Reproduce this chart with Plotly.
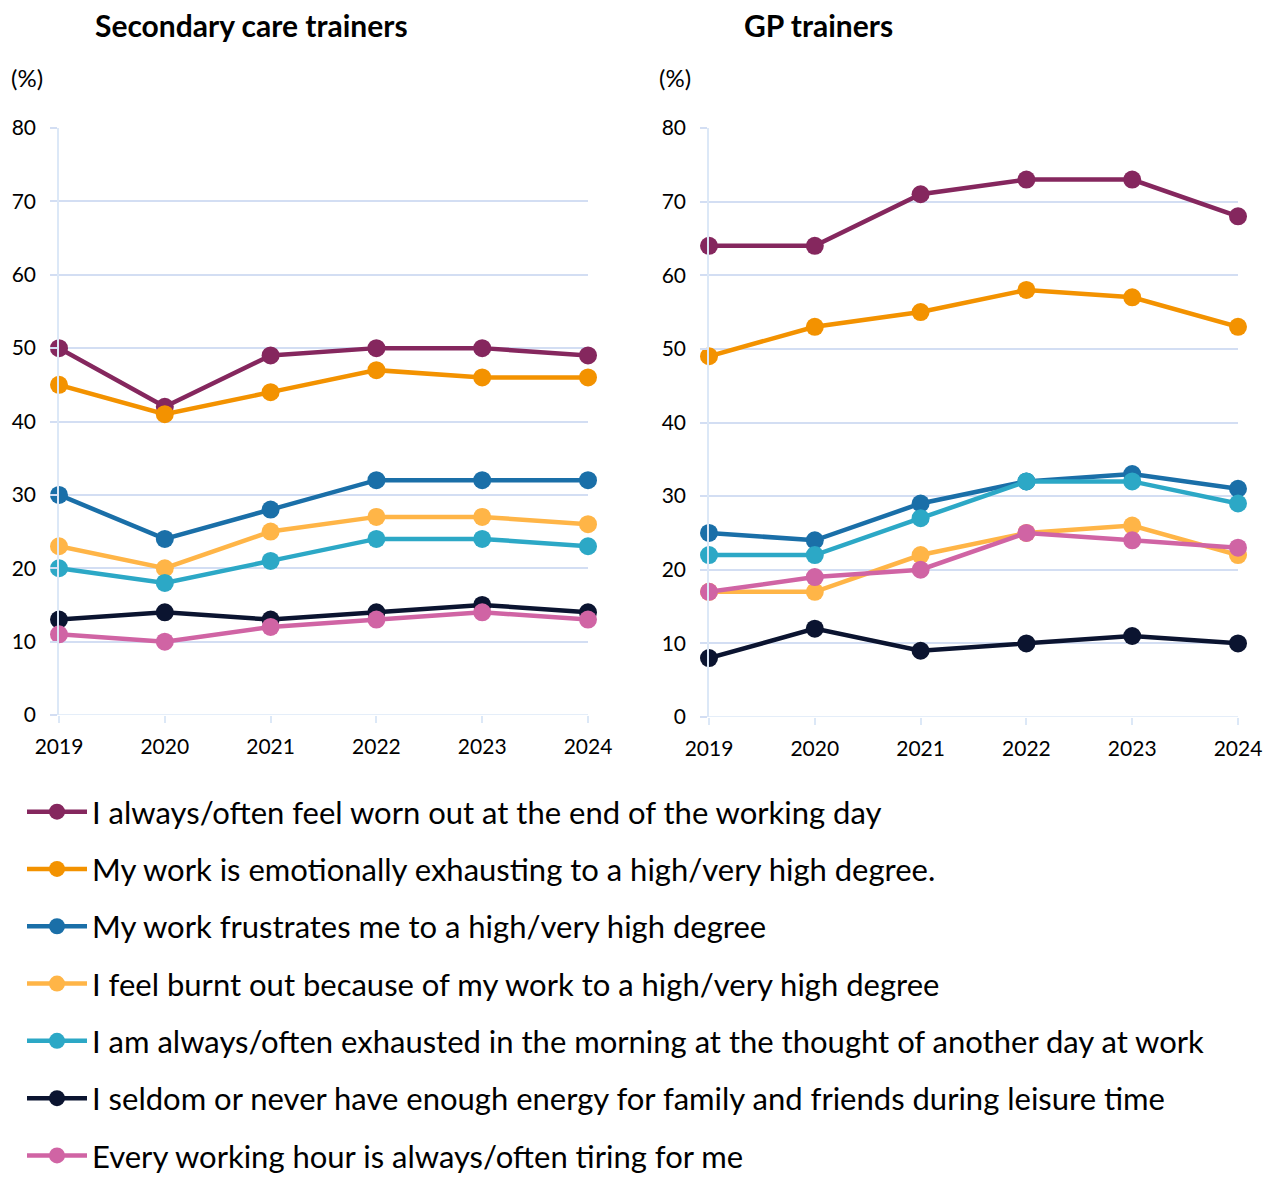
import plotly.graph_objects as go

years = [2019, 2020, 2021, 2022, 2023, 2024]

series_names = [
    "I always/often feel worn out at the end of the working day",
    "My work is emotionally exhausting to a high/very high degree.",
    "My work frustrates me to a high/very high degree",
    "I feel burnt out because of my work to a high/very high degree",
    "I am always/often exhausted in the morning at the thought of another day at work",
    "I seldom or never have enough energy for family and friends during leisure time",
    "Every working hour is always/often tiring for me",
]

colors = ["#85275E", "#F39200", "#1A6FA8", "#FFB547", "#2CA8C6", "#0B1430", "#D064A4"]

# Secondary care trainers (%)
secondary_worn_out = [50, 42, 49, 50, 50, 49]
secondary_emotional = [45, 41, 44, 47, 46, 46]
secondary_frustrates = [30, 24, 28, 32, 32, 32]
secondary_burnt_out = [23, 20, 25, 27, 27, 26]
secondary_morning = [20, 18, 21, 24, 24, 23]
secondary_energy = [13, 14, 13, 14, 15, 14]
secondary_tiring = [11, 10, 12, 13, 14, 13]

# GP trainers (%)
gp_worn_out = [64, 64, 71, 73, 73, 68]
gp_emotional = [49, 53, 55, 58, 57, 53]
gp_frustrates = [25, 24, 29, 32, 33, 31]
gp_burnt_out = [17, 17, 22, 25, 26, 22]
gp_morning = [22, 22, 27, 32, 32, 29]
gp_energy = [8, 12, 9, 10, 11, 10]
gp_tiring = [17, 19, 20, 25, 24, 23]

secondary = [secondary_worn_out, secondary_emotional, secondary_frustrates,
             secondary_burnt_out, secondary_morning, secondary_energy, secondary_tiring]
gp = [gp_worn_out, gp_emotional, gp_frustrates,
      gp_burnt_out, gp_morning, gp_energy, gp_tiring]

W, H = 1265, 1183
FONT = "Lato"
TEXT = "#000000"
GRID = "#D3DEF3"
AXIS = "#DCE8F7"


def px_x(p):
    return p / W


def px_y(p):
    return 1 - p / H


fig = go.Figure()

for i, name in enumerate(series_names):
    fig.add_trace(go.Scatter(
        x=years, y=secondary[i], name=name, mode="lines+markers",
        line=dict(color=colors[i], width=4.5),
        marker=dict(color=colors[i], size=18),
        xaxis="x", yaxis="y", cliponaxis=False,
        legendgroup=f"g{i}", showlegend=True,
    ))
for i, name in enumerate(series_names):
    fig.add_trace(go.Scatter(
        x=years, y=gp[i], name=name, mode="lines+markers",
        line=dict(color=colors[i], width=4.5),
        marker=dict(color=colors[i], size=18),
        xaxis="x2", yaxis="y2", cliponaxis=False,
        legendgroup=f"g{i}", showlegend=False,
    ))

xaxis_common = dict(
    range=[2019, 2024], tickvals=years, ticktext=[str(y) for y in years],
    showgrid=False, zeroline=False, showline=False,
    ticks="outside", ticklen=7, tickcolor=AXIS, tickwidth=1.5,
    ticklabelstandoff=6,
    tickfont=dict(family=FONT, size=21, color=TEXT),
)
yaxis_common = dict(
    range=[0, 80], tickvals=list(range(0, 81, 10)),
    showgrid=True, gridcolor=GRID, gridwidth=1.5,
    zeroline=False, showline=True, linecolor=AXIS, linewidth=1.5,
    ticks="outside", ticklen=7, tickcolor=GRID, tickwidth=1.5,
    ticklabelstandoff=10,
    tickfont=dict(family=FONT, size=21, color=TEXT),
)

fig.update_layout(
    width=W, height=H,
    margin=dict(l=0, r=0, t=0, b=0, autoexpand=False),
    paper_bgcolor="white", plot_bgcolor="white",
    font=dict(family=FONT, color=TEXT),
    xaxis=dict(domain=[px_x(59), px_x(588)], anchor="y", **xaxis_common),
    yaxis=dict(domain=[px_y(715), px_y(128)], anchor="x", **yaxis_common),
    xaxis2=dict(domain=[px_x(709), px_x(1238)], anchor="y2", **xaxis_common),
    yaxis2=dict(domain=[px_y(717), px_y(128)], anchor="x2", **yaxis_common),
    legend=dict(
        x=px_x(22), y=px_y(785), xanchor="left", yanchor="top",
        font=dict(family=FONT, size=31, color=TEXT),
        tracegroupgap=14, itemwidth=60, bgcolor="rgba(0,0,0,0)",
    ),
    showlegend=True,
)

# x-axis baselines along 0%
for xa, ya in (("x", "y"), ("x2", "y2")):
    fig.add_shape(type="line", xref=xa, yref=ya, x0=2019, x1=2024, y0=0, y1=0,
                  line=dict(color=AXIS, width=1.5), layer="below")

annotations = [
    dict(text="<b>Secondary care trainers</b>", x=px_x(252), y=px_y(25),
         font=dict(size=30)),
    dict(text="<b>GP trainers</b>", x=px_x(818), y=px_y(25), font=dict(size=30)),
    dict(text="(%)", x=px_x(27), y=px_y(77), font=dict(size=24)),
    dict(text="(%)", x=px_x(675), y=px_y(77), font=dict(size=24)),
]
for a in annotations:
    a.update(xref="paper", yref="paper", xanchor="center", yanchor="middle",
             showarrow=False)
    a["font"].update(family=FONT, color=TEXT)
fig.update_layout(annotations=annotations)

fig.write_html("out.html")
